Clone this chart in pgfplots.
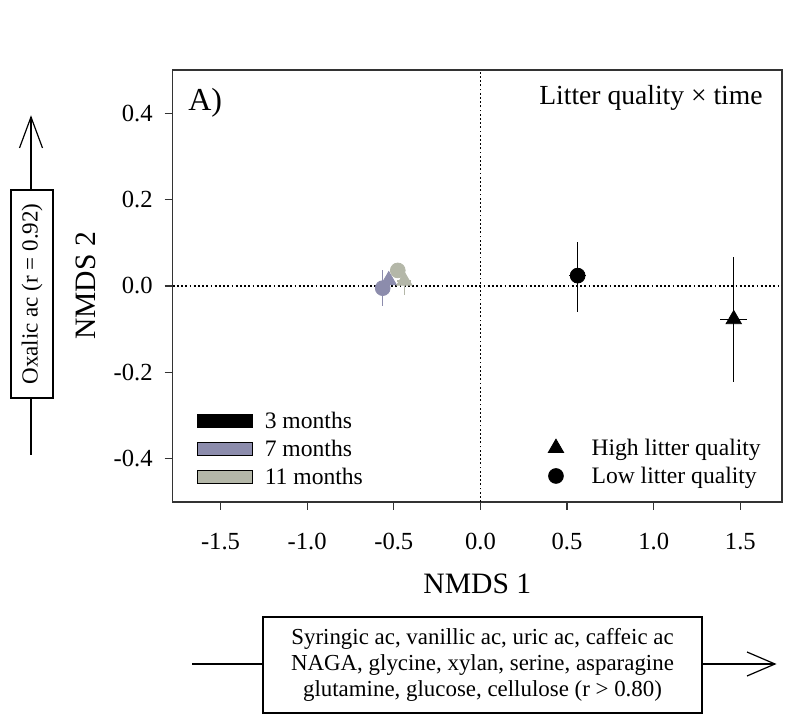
\documentclass[border=0pt]{standalone}
\usepackage{fontspec}
\setmainfont{Liberation Serif}
\usepackage{pgfplots}
\pgfplotsset{compat=1.18}
\definecolor{sevenm}{RGB}{140,140,172}
\definecolor{elevenm}{RGB}{180,183,168}
\pgfplotsset{
  barleg/.style={legend image code/.code={\fill[##1] (0pt,0.9pt) rectangle (27.5pt,7.1pt);}},
  markleg/.style={legend image code/.code={\draw[##1] plot coordinates {(0pt,4pt)};}},
}
\begin{document}
\begin{tikzpicture}[x=1pt,y=1pt]
\useasboundingbox (0,0) rectangle (395,358);
\begin{axis}[
  at={(86.35pt,107pt)}, anchor=south west,
  scale only axis, width=304.6pt, height=216pt,
  xmin=-1.776, xmax=1.74, ymin=-0.5, ymax=0.5,
  axis line style={line width=0.6pt, black!80},
  tick style={line width=0.6pt, black!80},
  tick align=outside, major tick length=4pt,
  xtick={-1.5,-1,-0.5,0,0.5,1,1.5},
  xticklabels={-1.5,-1.0,-0.5,0.0,0.5,1.0,1.5},
  ytick={-0.4,-0.2,0,0.2,0.4},
  yticklabels={-0.4,-0.2,0.0,0.2,0.4},
  xtick pos=bottom, ytick pos=left,
  tick label style={font=\fontsize{12.3}{14}\selectfont},
  xticklabel style={yshift=-8pt},
  yticklabel style={xshift=-2.5pt},
  xlabel={NMDS 1}, ylabel={NMDS 2},
  label style={font=\fontsize{14.8}{16}\selectfont},
  xlabel style={at={(axis description cs:0.5,-0.19)}, anchor=center},
  ylabel style={at={(axis description cs:-0.142,0.5)}, anchor=center},
  legend style={draw=none, fill=none, inner sep=0pt, outer sep=0pt, row sep=0pt,
    at={(axis description cs:0.0399,0.213)}, anchor=north west,
    font=\fontsize{11.8}{13}\selectfont,
    nodes={inner sep=0pt, text height=9.5pt, text depth=4.5pt, anchor=base west},
    /tikz/every odd column/.append style={column sep=6pt}},
  legend cell align=left,
  error bars/error bar style={line width=0.7pt},
]
\addplot[forget plot, black, line width=0.9pt, dash pattern=on 0.9pt off 1.2pt] coordinates {(-1.776,0) (1.74,0)};
\addplot[forget plot, black, line width=0.9pt, dash pattern=on 0.9pt off 1.2pt] coordinates {(0,-0.5) (0,0.5)};
% 3 months
\addplot[forget plot, only marks, black, mark=*, mark size=3.7pt,
  error bars/.cd, x dir=both, x explicit, y dir=both, y explicit, error mark=none]
  coordinates {(0.561,0.024) += (0.048,0.077) -= (0.048,0.084)};
\addplot[forget plot, only marks, black, mark=triangle*, mark size=4.4pt,
  error bars/.cd, x dir=both, x explicit, y dir=both, y explicit, error mark=none]
  coordinates {(1.462,-0.077) += (0.077,0.145) -= (0.077,0.146)};
% 7 months
\addplot[forget plot, only marks, sevenm, mark=*, mark size=3.7pt,
  error bars/.cd, x dir=both, x explicit, y dir=both, y explicit, error mark=none]
  coordinates {(-0.564,-0.005) += (0.02,0.041) -= (0.02,0.042)};
\addplot[forget plot, only marks, sevenm, mark=triangle*, mark size=4.4pt,
  error bars/.cd, x dir=both, x explicit, y dir=both, y explicit, error mark=none]
  coordinates {(-0.529,0.013) += (0.02,0.02) -= (0.02,0.02)};
% 11 months
\addplot[forget plot, only marks, elevenm, mark=*, mark size=3.7pt,
  error bars/.cd, x dir=both, x explicit, y dir=both, y explicit, error mark=none]
  coordinates {(-0.477,0.036) += (0.015,0.017) -= (0.015,0.017)};
\addplot[forget plot, only marks, elevenm, mark=triangle*, mark size=4.4pt,
  error bars/.cd, x dir=both, x explicit, y dir=both, y explicit, error mark=none]
  coordinates {(-0.439,0.012) += (0.04,0.025) -= (0.04,0.034)};
\addlegendimage{barleg, fill=black}
\addlegendentry{3 months}
\addlegendimage{barleg, fill=sevenm}
\addlegendentry{7 months}
\addlegendimage{barleg, fill=elevenm}
\addlegendentry{11 months}
\node[anchor=west, font=\fontsize{16}{18}\selectfont] at (axis description cs:0.014,0.924) {A)};
\node[font=\fontsize{13.8}{15}\selectfont] at (axis description cs:0.785,0.935) {Litter quality × time};
\end{axis}
\begin{axis}[
  at={(86.35pt,107pt)}, anchor=south west,
  scale only axis, width=304.6pt, height=216pt,
  xmin=-1.776, xmax=1.74, ymin=-0.5, ymax=0.5,
  hide axis,
  legend style={draw=none, fill=none, inner sep=0pt, outer sep=0pt, row sep=0pt,
    at={(axis description cs:0.6166,0.1505)}, anchor=north west,
    font=\fontsize{11.8}{13}\selectfont,
    nodes={inner sep=0pt, text height=9.5pt, text depth=4.5pt, anchor=base west},
    /tikz/every odd column/.append style={column sep=14pt}},
  legend cell align=left,
]
\addlegendimage{markleg, only marks, black, mark=triangle*, mark size=4.4pt}
\addlegendentry{High litter quality}
\addlegendimage{markleg, only marks, black, mark=*, mark size=3.7pt}
\addlegendentry{Low litter quality}
\end{axis}
% left annotation
\draw[line width=0.6pt] (15.5,130.5) -- (15.5,299.5);
\draw[line width=0.6pt] (9.75,284) -- (15.5,299.5) -- (21.25,284);
\node[draw, fill=white, line width=0.6pt, rotate=90, minimum width=104pt, minimum height=21pt, inner sep=0pt,
  font=\fontsize{11.5}{13}\selectfont] at (16,211) {Oxalic ac (r = 0.92)};
% bottom annotation
\draw[line width=0.6pt] (96,26) -- (387.5,26);
\draw[line width=0.6pt] (373.5,32) -- (387.5,26) -- (373.5,20);
\node[draw, fill=white, line width=0.6pt, minimum width=219.5pt, minimum height=48pt, inner sep=0pt, align=center,
  font=\fontsize{11.45}{13}\selectfont] at (241.25,25.5)
  {Syringic ac, vanillic ac, uric ac, caffeic ac\\NAGA, glycine, xylan, serine, asparagine\\glutamine, glucose, cellulose (r > 0.80)};
\end{tikzpicture}
\end{document}
